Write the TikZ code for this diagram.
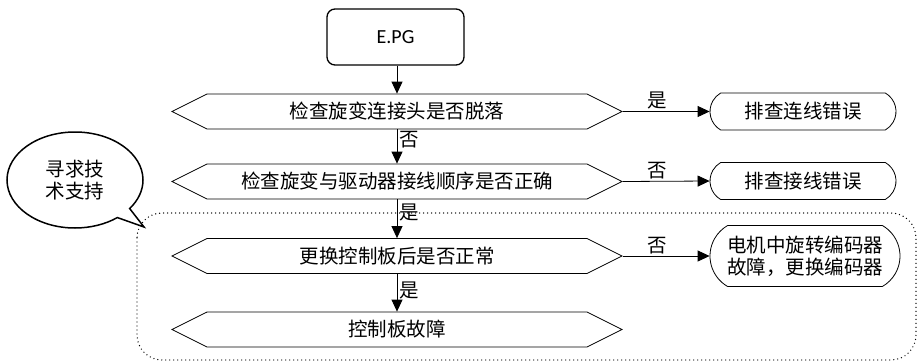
\documentclass[tikz,border=0pt]{standalone}
\usepackage{fontspec}
\setmainfont{Carlito}
\newfontfamily\cjkfont{Noto Sans CJK SC}
\newcommand\cjktext{\cjkfont\fontsize{19.5}{22}\selectfont}
\usetikzlibrary{
    shapes.symbols,
    shapes.misc,
    shapes.callouts,
    arrows.meta
}

\begin{document}
\begin{tikzpicture}[
    x=1pt, y=-1pt,
    startBox/.style={
        rectangle, rounded corners=8pt,
        draw=black, line width=1.3pt,
        minimum width=137pt, minimum height=56pt,
        font=\fontsize{20}{24}\selectfont
    },
    checkHex/.style={
        signal, signal to=west and east, signal pointer angle=53,
        draw=black, line width=0.8pt,
        minimum width=450pt, minimum height=35pt,
        inner sep=0pt, font=\cjktext
    },
    fixTerm/.style={
        rounded rectangle, rounded rectangle arc length=120,
        draw=black, line width=0.8pt,
        minimum width=190pt, minimum height=37pt,
        inner sep=2pt, align=center, font=\cjktext
    },
    helpCallout/.style={
        ellipse callout, draw=black, line width=1.5pt,
        minimum width=136pt, minimum height=96pt,
        align=center, font=\cjktext
    },
    groupBox/.style={
        draw=black, line width=1.4pt, line cap=round,
        dash pattern=on 0pt off 4pt, rounded corners=25pt
    },
    flowLine/.style={
        -{Triangle[length=12pt,width=11pt]}, line width=0.8pt
    },
    flowLabel/.style={
        font=\cjktext, inner sep=2pt
    }
]
    \useasboundingbox (0,0) rectangle (919,362);

    % Dotted group frame
    \draw[groupBox] (137,213) rectangle (916,360);

    % Main column
    \node[startBox] (start) at (395.5,37) {E.PG};
    \node[checkHex] (chkPlug) at (397,111.5) {检查旋变连接头是否脱落};
    \node[checkHex] (chkOrder) at (397,181.5) {检查旋变与驱动器接线顺序是否正确};
    \node[checkHex] (chkBoard) at (397,256) {更换控制板后是否正常};
    \node[checkHex] (boardFault) at (397,329.5) {控制板故障};

    % Right column
    \node[fixTerm] (fixPlug) at (803,111.5) {排查连线错误};
    \node[fixTerm] (fixOrder) at (803,181) {排查接线错误};
    \node[fixTerm, minimum width=194pt, minimum height=61pt] (fixEnc) at (805,256) {电机中旋转编码器\\故障，更换编码器};

    % Help bubble
    \coordinate (helpTip) at (144,227);
    \node[helpCallout, callout absolute pointer=(helpTip)] (help) at (75,180) {寻求技\\术支持};

    % Connectors
    \draw[flowLine] (start.south -| chkPlug.north) -- (chkPlug.north);
    \draw[flowLine] (chkPlug.south) -- node[flowLabel, right, pos=0.3] {否} (chkOrder.north);
    \draw[flowLine] (chkOrder.south) -- node[flowLabel, right, pos=0.35] {是} (chkBoard.north);
    \draw[flowLine] (chkBoard.south) -- node[flowLabel, right, pos=0.45] {是} (boardFault.north);

    \draw[flowLine] (chkPlug.east) -- node[flowLabel, above, pos=0.4] {是} (fixPlug.west);
    \draw[flowLine] (chkOrder.east) -- node[flowLabel, above, pos=0.4] {否} (fixOrder.west);
    \draw[flowLine] (chkBoard.east) -- node[flowLabel, above, pos=0.4] {否} (fixEnc.west);

\end{tikzpicture}
\end{document}
